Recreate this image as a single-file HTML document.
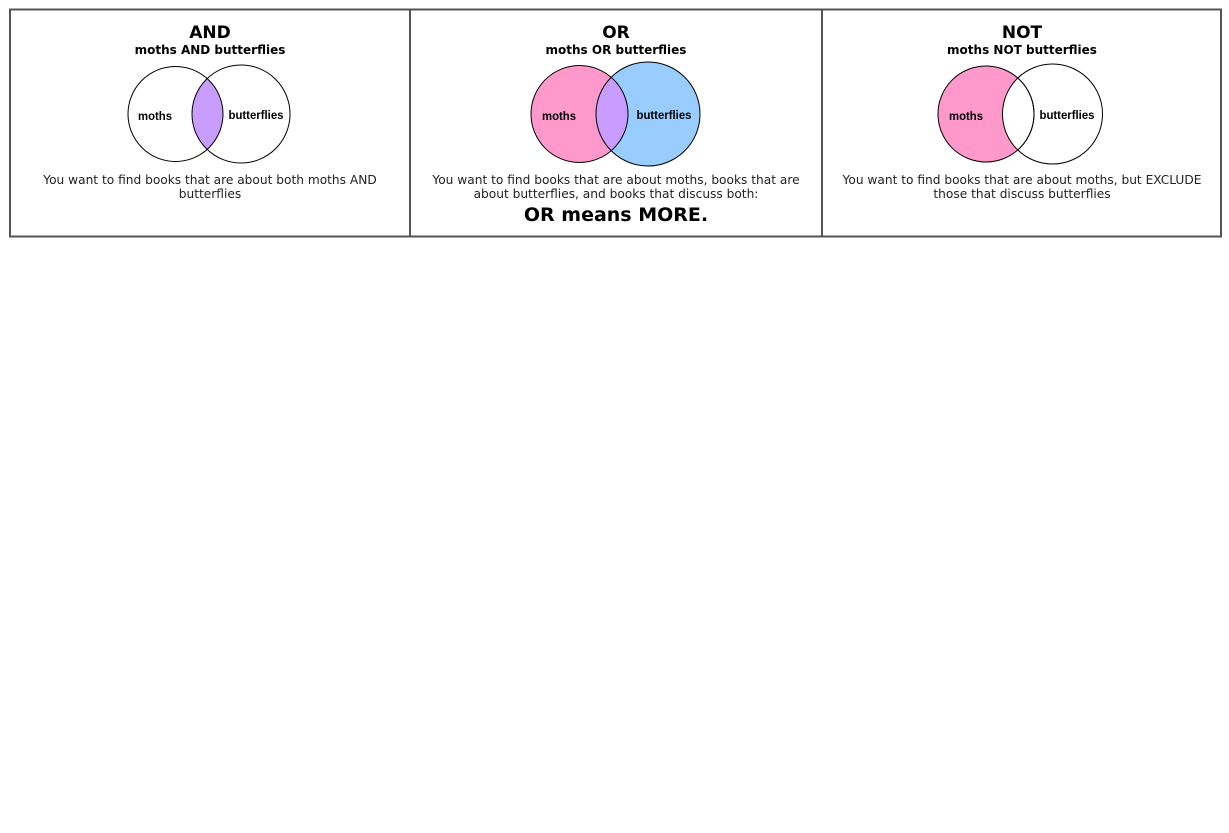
<!DOCTYPE html>
<html><head><meta charset="utf-8"><style>
html,body{margin:0;padding:0;background:#fff;width:1229px;height:833px;overflow:hidden}
svg{display:block}
.t{font-family:"DejaVu Sans","Liberation Sans",sans-serif;font-weight:bold;fill:#000}
.b{font-family:"DejaVu Sans","Liberation Sans",sans-serif;font-size:12.2px;fill:#222}
.l{font-family:"Liberation Sans",sans-serif;font-weight:bold;font-size:12px;fill:#000}
</style></head><body>
<svg width="1229" height="833">
<defs>
<clipPath id="cA"><circle cx="175.5" cy="114" r="47.5"/></clipPath>
<clipPath id="cO"><circle cx="579.5" cy="114" r="48.5"/></clipPath>
<clipPath id="cN"><circle cx="1052.5" cy="114" r="50"/></clipPath>
</defs>
<rect x="10" y="9.5" width="1211" height="227" fill="none" stroke="#555" stroke-width="2"/>
<line x1="410" y1="9" x2="410" y2="237" stroke="#555" stroke-width="2"/>
<line x1="822" y1="9" x2="822" y2="237" stroke="#555" stroke-width="2"/>

<g>
<text class="t" x="210" y="38" font-size="17" text-anchor="middle">AND</text>
<text class="t" x="210" y="54" font-size="12" text-anchor="middle">moths AND butterflies</text>
<circle cx="241" cy="114" r="49" fill="#c99cff" clip-path="url(#cA)"/>
<circle cx="175.5" cy="114" r="47.5" fill="none" stroke="#000"/>
<circle cx="241" cy="114" r="49" fill="none" stroke="#000"/>
<text class="l" x="155" y="120" text-anchor="middle" textLength="34" lengthAdjust="spacingAndGlyphs">moths</text>
<text class="l" x="256" y="119" text-anchor="middle" textLength="55" lengthAdjust="spacingAndGlyphs">butterflies</text>
<text class="b" x="210" y="184" text-anchor="middle">You want to find books that are about both moths AND</text>
<text class="b" x="210" y="198" text-anchor="middle">butterflies</text>
</g>

<g>
<text class="t" x="616" y="38" font-size="17" text-anchor="middle">OR</text>
<text class="t" x="616" y="54" font-size="12" text-anchor="middle">moths OR butterflies</text>
<circle cx="579.5" cy="114" r="48.5" fill="#ff99cc"/>
<circle cx="648" cy="114" r="52" fill="#99ccff"/>
<circle cx="648" cy="114" r="52" fill="#c99cff" clip-path="url(#cO)"/>
<circle cx="579.5" cy="114" r="48.5" fill="none" stroke="#000"/>
<circle cx="648" cy="114" r="52" fill="none" stroke="#000"/>
<text class="l" x="559" y="120" text-anchor="middle" textLength="34" lengthAdjust="spacingAndGlyphs">moths</text>
<text class="l" x="664" y="119" text-anchor="middle" textLength="55" lengthAdjust="spacingAndGlyphs">butterflies</text>
<text class="b" x="616" y="184" text-anchor="middle">You want to find books that are about moths, books that are</text>
<text class="b" x="616" y="198" text-anchor="middle">about butterflies, and books that discuss both:</text>
<text class="t" x="616" y="221" font-size="19" text-anchor="middle">OR means MORE.</text>
</g>

<g>
<text class="t" x="1022" y="38" font-size="17" text-anchor="middle">NOT</text>
<text class="t" x="1022" y="54" font-size="12" text-anchor="middle">moths NOT butterflies</text>
<circle cx="986" cy="114" r="48" fill="#ff99cc"/>
<circle cx="1052.5" cy="114" r="50" fill="#fff"/>
<circle cx="986" cy="114" r="48" fill="none" stroke="#000" clip-path="url(#cN)"/>
<circle cx="986" cy="114" r="48" fill="none" stroke="#000"/>
<circle cx="1052.5" cy="114" r="50" fill="none" stroke="#000"/>
<text class="l" x="966" y="120" text-anchor="middle" textLength="34" lengthAdjust="spacingAndGlyphs">moths</text>
<text class="l" x="1067" y="119" text-anchor="middle" textLength="55" lengthAdjust="spacingAndGlyphs">butterflies</text>
<text class="b" x="1022" y="184" text-anchor="middle">You want to find books that are about moths, but EXCLUDE</text>
<text class="b" x="1022" y="198" text-anchor="middle">those that discuss butterflies</text>
</g>
</svg>
</body></html>
